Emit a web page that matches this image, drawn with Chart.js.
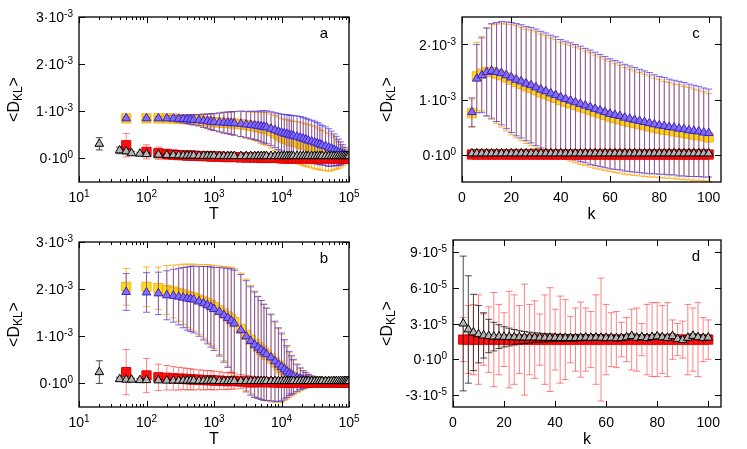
<!DOCTYPE html>
<html>
<head>
<meta charset="utf-8">
<script src="https://cdn.jsdelivr.net/npm/chart.js@4.4.1/dist/chart.umd.min.js"></script>
<style>
  body { margin: 0; background: #fff; width: 747px; height: 449px; overflow: hidden; position: relative; }
  canvas { position: absolute; }
</style>
</head>
<body>
<canvas id="pa" width="373" height="224" style="left:0;top:0"></canvas>
<canvas id="pb" width="373" height="225" style="left:0;top:224px"></canvas>
<canvas id="pc" width="374" height="224" style="left:373px;top:0"></canvas>
<canvas id="pd" width="374" height="225" style="left:373px;top:224px"></canvas>
<script>
// ---- data (a, b in units of 1e-3; c in 1e-3; d in 1e-5) ----
const T = [50, 100, 150, 200, 250, 300, 350, 400, 450, 500,
  600, 700, 800, 900, 1000, 1200, 1400, 1600, 1800, 2000,
  2500, 3000, 3500, 4000, 4500, 5000, 5500, 6000,
  7000, 8000, 9000, 10000, 11000, 12000, 13000, 14000, 15000,
  17000, 19000, 21000, 23000, 25000, 28000, 31000, 34000, 37000, 40000,
  45000, 50000, 55000, 60000, 65000, 70000, 75000, 80000, 85000, 90000, 95000, 100000];
const T_GRAY = [20, 40, 50, 60, 80].concat(T.slice(1)); //gray runs start earlier

// panel a
const YELLOW_A = [0.85,0.85,0.85,0.85,0.845,0.84,0.835,0.83,0.825,0.82, 0.81,0.80,0.79,0.78,0.77, 0.76,0.755,0.75,0.745,0.74,
  0.725,0.71,0.695,0.68,0.665,0.65,0.635,0.62, 0.58,0.54,0.50,0.46, 0.43,0.41,0.39,0.37,0.36,
  0.34,0.32,0.30,0.28,0.27, 0.25,0.23,0.21,0.19,0.17, 0.15,0.13,0.11,0.10,0.08,0.07,0.06,0.05,0.04,0.035,0.03,0.03];
const BLUE_A = [0.85,0.85,0.85,0.85,0.845,0.84,0.835,0.83,0.825,0.82, 0.81,0.80,0.79,0.78,0.77, 0.765,0.76,0.755,0.75,0.745,
  0.735,0.72,0.71,0.70,0.69,0.68,0.67,0.66, 0.63,0.60,0.57,0.55, 0.53,0.52,0.50,0.49,0.48,
  0.46,0.44,0.42,0.40,0.38, 0.36,0.34,0.32,0.30,0.28, 0.26,0.23,0.21,0.18,0.16,0.13,0.11,0.09,0.07,0.06,0.05,0.04];
const ERR_A = [0.03,0.03,0.04,0.05,0.06,0.07,0.08,0.09,0.10,0.11, 0.12,0.14,0.15,0.17,0.18, 0.20,0.22,0.23,0.24,0.25,
  0.27,0.28,0.29,0.30,0.31,0.33,0.34,0.35, 0.36,0.37,0.38,0.39, 0.40,0.41,0.42,0.42,0.43,
  0.44,0.45,0.45,0.45,0.45, 0.45,0.45,0.44,0.43,0.42, 0.41,0.40,0.37,0.34,0.31,0.28,0.24,0.20,0.16,0.12,0.08,0.05];
const RED_A = [0.28,0.14,0.11,0.09,0.08,0.07,0.07,0.06,0.06,0.06, 0.05,0.05,0.05,0.04,0.04, 0.04,0.03,0.03,0.03,0.03,
  0.02,0.02,0.02,0.02,0.02,0.01,0.01,0.01, 0.01,0.01,0.01,0, 0,0,0,0,0,
  0,0,0,0,0, 0,0,0,0,0, 0,0,0,0,0,0,0,0,0,0,0,0];
const RED_ERR_A = [0.25,0.15,0.13,0.11,0.10,0.09,0.08,0.07,0.07,0.06, 0.05,0.05,0.04,0.04,0.04, 0.03,0.03,0.03,0.03,0.03,
  0.02,0.02,0.02,0.02,0.02,0.02,0.02,0.02, 0.02,0.02,0.02,0.02, 0.02,0.02,0.02,0.02,0.02,
  0.02,0.02,0.02,0.02,0.02, 0.02,0.02,0.02,0.02,0.02, 0.02,0.02,0.02,0.02,0.02,0.02,0.02,0.02,0.02,0.02,0.02,0.02];
const GRAY_A = [0.31,0.17,0.15,0.11,0.10, 0.09,0.08,0.07,0.07,0.065,0.06,0.06,0.06,0.06, 0.055,0.055,0.055,0.055,0.055,
  0.05,0.05,0.05,0.05,0.05, 0.05,0.05,0.05,0.05,0.05,0.05,0.05,0.05, 0.05,0.05,0.05,0.05, 0.05,0.05,0.05,0.05,0.05,
  0.05,0.05,0.05,0.05,0.05, 0.05,0.05,0.05,0.05,0.05, 0.05,0.05,0.05,0.05,0.05,0.05,0.05,0.05,0.05,0.05,0.05,0.05];
const GRAY_ERR_A = [0.13,0.07,0.05,0.04,0.03, 0.03,0.02,0.02,0.02,0.02,0.02,0.02,0.02,0.02, 0.02,0.02,0.02,0.02,0.02,
  0.02,0.02,0.02,0.02,0.02, 0.02,0.02,0.02,0.02,0.02,0.02,0.02,0.02, 0.02,0.02,0.02,0.02, 0.02,0.02,0.02,0.02,0.02,
  0.02,0.02,0.02,0.02,0.02, 0.02,0.02,0.02,0.02,0.02, 0.02,0.02,0.02,0.02,0.02,0.02,0.02,0.02,0.02,0.02,0.02,0.02];

// panel b
const YELLOW_B = [2.05,2.05,2.02,1.98,1.95,1.92,1.89,1.86,1.84,1.82, 1.78,1.74,1.70,1.66,1.62, 1.55,1.48,1.42,1.36,1.30,
  1.16,1.03,0.93,0.84,0.77,0.71,0.66,0.61, 0.53,0.45,0.38,0.32, 0.27,0.22,0.18,0.15,0.13,
  0.10,0.08,0.07,0.06,0.05, 0.045,0.04,0.035,0.03,0.03, 0.03,0.03,0.025,0.025,0.025,0.02,0.02,0.02,0.02,0.02,0.02,0.02];
const BLUE_B = [1.94,1.93,1.91,1.87,1.86,1.84,1.82,1.80,1.79,1.78, 1.74,1.70,1.66,1.62,1.58, 1.52,1.45,1.39,1.33,1.27,
  1.13,1.00,0.90,0.82,0.76,0.71,0.66,0.62, 0.55,0.47,0.40,0.35, 0.30,0.25,0.21,0.18,0.15,
  0.12,0.10,0.08,0.07,0.06, 0.05,0.045,0.04,0.035,0.035, 0.03,0.03,0.03,0.03,0.025,0.025,0.025,0.02,0.02,0.02,0.02,0.02];
const ERR_B = [0.39,0.42,0.45,0.52,0.56,0.60,0.64,0.67,0.69,0.71, 0.74,0.78,0.82,0.85,0.88, 0.94,1.00,1.05,1.10,1.13,
  1.18,1.18,1.15,1.12,1.08,1.05,1.02,0.98, 0.92,0.85,0.78,0.72, 0.63,0.55,0.47,0.41,0.36,
  0.29,0.23,0.19,0.16,0.13, 0.11,0.09,0.08,0.07,0.06, 0.05,0.04,0.035,0.03,0.03,0.025,0.025,0.02,0.02,0.02,0.02,0.02];
const RED_B = [0.24,0.17,0.13,0.12,0.11,0.10,0.10,0.09,0.09,0.08, 0.08,0.07,0.07,0.07,0.06, 0.06,0.05,0.05,0.05,0.05,
  0.04,0.04,0.035,0.03,0.03,0.03,0.03,0.025, 0.025,0.02,0.02,0.02, 0.02,0.02,0.02,0.02,0.02,
  0.02,0.02,0.02,0.02,0.02, 0.02,0.02,0.02,0.02,0.02, 0.02,0.02,0.02,0.02,0.02,0.02,0.02,0.02,0.02,0.02,0.02,0.02];
const RED_ERR_B = [0.48,0.36,0.28,0.26,0.25,0.24,0.23,0.23,0.22,0.22, 0.21,0.21,0.20,0.20,0.20, 0.19,0.18,0.18,0.17,0.17,
  0.15,0.13,0.12,0.11,0.10,0.08,0.07,0.07, 0.06,0.05,0.05,0.04, 0.04,0.03,0.03,0.03,0.03,
  0.02,0.02,0.02,0.02,0.02, 0.02,0.02,0.02,0.02,0.02, 0.02,0.02,0.02,0.02,0.02,0.02,0.02,0.02,0.02,0.02,0.02,0.02];
const GRAY_B = [0.24,0.09,0.08,0.08,0.07, 0.07,0.065,0.06,0.06,0.06,0.06,0.06,0.06,0.06, 0.055,0.055,0.055,0.055,0.055,
  0.05,0.05,0.05,0.05,0.05, 0.05,0.05,0.05,0.05,0.05,0.05,0.05,0.05, 0.05,0.05,0.05,0.05, 0.05,0.05,0.05,0.05,0.05,
  0.05,0.05,0.05,0.05,0.05, 0.05,0.05,0.05,0.05,0.05, 0.05,0.05,0.05,0.05,0.05,0.05,0.05,0.05,0.05,0.05,0.05,0.05];
const GRAY_ERR_B = [0.24,0.04,0.03,0.03,0.03, 0.02,0.02,0.02,0.02,0.02,0.02,0.02,0.02,0.02, 0.02,0.02,0.02,0.02,0.02,
  0.02,0.02,0.02,0.02,0.02, 0.02,0.02,0.02,0.02,0.02,0.02,0.02,0.02, 0.02,0.02,0.02,0.02, 0.02,0.02,0.02,0.02,0.02,
  0.02,0.02,0.02,0.02,0.02, 0.02,0.02,0.02,0.02,0.02, 0.02,0.02,0.02,0.02,0.02,0.02,0.02,0.02,0.02,0.02,0.02,0.02];

// panels c, d share k
const K = [4,6,8,10,12,14,16,18,20,22,24,26,28,30,32,34,36,38,40,42,44,46,48,50,
  52,54,56,58,60,62,64,66,68,70,72,74,76,78,80,82,84,86,88,90,92,94,96,98,100];

const YELLOW_C = [0.75,1.42,1.47,1.50,1.50,1.47,1.44,1.40,1.36,1.32, 1.28,1.24,1.21,1.17,1.13,1.10,1.06,1.03,0.99,0.96,
  0.93,0.90,0.87,0.84,0.81,0.78,0.75,0.72,0.69,0.66, 0.64,0.61,0.59,0.57,0.55,0.53,0.51,0.49,0.47,0.45,
  0.44,0.42,0.41,0.39,0.38,0.36,0.35,0.33,0.31];
const BLUE_C = [0.77,1.38,1.44,1.50,1.52,1.50,1.48,1.44,1.40,1.36, 1.33,1.29,1.26,1.22,1.18,1.15,1.11,1.08,1.04,1.01,
  0.98,0.95,0.92,0.89,0.86,0.83,0.80,0.77,0.74,0.72, 0.70,0.67,0.65,0.63,0.61,0.59,0.57,0.55,0.53,0.52,
  0.50,0.49,0.47,0.46,0.44,0.43,0.42,0.40,0.39];
const ERR_C = [0.26,0.62,0.68,0.80,0.86,0.90,0.94,0.97,1.00,1.02, 1.03,1.04,1.05,1.06,1.06,1.06,1.06,1.06,1.05,1.05,
  1.05,1.05,1.05,1.04,1.04,1.03,1.02,1.01,1.00,0.99, 0.98,0.97,0.96,0.95,0.94,0.93,0.92,0.90,0.89,0.88,
  0.87,0.86,0.86,0.85,0.84,0.83,0.82,0.81,0.80];
const RED_C = [0,0,0,0,0,0,0,0,0,0, 0,0,0,0,0,0,0,0,0,0, 0,0,0,0,0,0,0,0,0,0, 0,0,0,0,0,0,0,0,0,0, 0,0,0,0,0,0,0,0,0];
const RED_ERR_C = [0.01,0.01,0.01,0.01,0.01,0.01,0.01,0.01,0.01,0.01, 0.01,0.01,0.01,0.01,0.01,0.01,0.01,0.01,0.01,0.01,
  0.01,0.01,0.01,0.01,0.01,0.01,0.01,0.01,0.01,0.01, 0.01,0.01,0.01,0.01,0.01,0.01,0.01,0.01,0.01,0.01,
  0.01,0.01,0.01,0.01,0.01,0.01,0.01,0.01,0.01];
const GRAY_C = [0.02,0.02,0.02,0.02,0.02,0.02,0.02,0.02,0.02,0.02, 0.02,0.02,0.02,0.02,0.02,0.02,0.02,0.02,0.02,0.02,
  0.02,0.02,0.02,0.02,0.02,0.02,0.02,0.02,0.02,0.02, 0.02,0.02,0.02,0.02,0.02,0.02,0.02,0.02,0.02,0.02,
  0.02,0.02,0.02,0.02,0.02,0.02,0.02,0.02,0.02];
const GRAY_ERR_C = RED_ERR_C;

const RED_D = [1.65,1.65,1.65,1.65,1.65,1.65,1.65,1.65,1.65,1.65, 1.65,1.65,1.65,1.65,1.65,1.65,1.65,1.65,1.65,1.65,
  1.65,1.65,1.65,1.65,1.65,1.65,1.65,1.65,1.65,1.65, 1.65,1.65,1.65,1.65,1.65,1.65,1.65,1.65,1.65,1.65,
  1.65,1.65,1.65,1.65,1.65,1.65,1.65,1.65,1.65];
const RED_ERR_D = [1.85,2.85,2.95,3.75,2.15,2.75,3.95,2.95,2.25,4.05, 3.75,2.85,4.65,2.95,3.25,2.15,3.75,4.35,2.55,3.65,
  3.35,1.95,2.65,3.15,2.65,2.35,3.75,5.15,2.95,2.25, 2.35,1.45,1.85,2.55,2.65,1.35,2.95,3.1,3.1,2.85,
  3.1,1.65,1.35,1.55,2.95,2.65,3.1,1.85,1.65];
const GRAY_D = [3.0,2.5,2.25,2.1,2.0,1.95,1.9,1.9,1.88,1.86, 1.85,1.84,1.83,1.82,1.82,1.81,1.8,1.8,1.8,1.79,
  1.79,1.78,1.78,1.8,1.82,1.8,1.82,1.8,1.78,1.8, 1.76,1.78,1.84,1.95,1.8,1.85,1.78,1.86,1.92,1.84,
  1.8,1.94,1.7,1.62,1.8,1.96,1.85,1.78,1.82];
const GRAY_ERR_D = [5.65,4.5,3.2,2.4,1.9,1.4,1.2,1.0,0.85,0.75, 0.65,0.55,0.5,0.45,0.4,0.38,0.35,0.33,0.3,0.3,
  0.28,0.28,0.26,0.26,0.25,0.25,0.24,0.24,0.23,0.23, 0.22,0.22,0.22,0.22,0.21,0.21,0.21,0.21,0.2,0.2,
  0.2,0.2,0.2,0.2,0.2,0.2,0.2,0.2,0.2];

// tick labels: [mantissa, exponent]
const T_TICKS = [10, 100, 1000, 10000, 100000];
const T_LABELS = [['10', '1'], ['10', '2'], ['10', '3'], ['10', '4'], ['10', '5']];
const K_TICKS = [0, 20, 40, 60, 80, 100];
const K_LABELS = ['0', '20', '40', '60', '80', '100'];
const Y_TICKS_AB = [0, 1e-3, 2e-3, 3e-3];
const Y_LABELS_AB = [['0', '0'], ['1', '-3'], ['2', '-3'], ['3', '-3']];
const Y_TICKS_C = [0, 1e-3, 2e-3];
const Y_LABELS_C = [['0', '0'], ['1', '-3'], ['2', '-3']];
const Y_TICKS_D = [-3e-5, 0, 3e-5, 6e-5, 9e-5];
const Y_LABELS_D = [['-3', '-5'], ['0', '0'], ['3', '-5'], ['6', '-5'], ['9', '-5']];

const FONT = '"Liberation Sans", Arial, Helvetica, sans-serif';

// ---- marker styles ----
const YELLOW = { pointStyle: 'rect', pointRadius: 6.5, backgroundColor: 'rgba(255,215,0,0.9)',
  borderColor: 'rgba(255,165,0,0.85)', borderWidth: 1, errorColor: 'rgba(255,165,0,0.8)', order: 4 };
const BLUE = { pointStyle: 'triangle', pointRadius: 5, backgroundColor: 'rgba(125,110,245,0.95)',
  borderColor: '#3b1fd0', borderWidth: 1, errorColor: 'rgba(85,55,220,0.75)', order: 3 };
const RED = { pointStyle: 'rect', pointRadius: 6.5, backgroundColor: '#ff1010',
  borderColor: '#dd0000', borderWidth: 1, errorColor: 'rgba(255,30,30,0.55)', order: 2 };
const GRAY = { pointStyle: 'triangle', pointRadius: 5, backgroundColor: '#b4b4b4',
  borderColor: '#000', borderWidth: 1, errorColor: 'rgba(0,0,0,0.7)', order: 1 };

function series(xs, ys, errs, unit, style) {
  return Object.assign({
    data: xs.map((x, i) => ({ x: x, y: ys[i] * unit })),
    errors: errs.map(e => e * unit),
    showLine: false
  }, style);
}

// error bars drawn right before each dataset's markers
const errorBars = {
  id: 'errorBars',
  beforeDatasetDraw(chart, args) {
    const ds = chart.data.datasets[args.index];
    if (!ds.errors) return;
    const sx = chart.scales.x, sy = chart.scales.y, a = chart.chartArea, ctx = chart.ctx;
    ctx.save();
    ctx.beginPath();
    ctx.rect(a.left, a.top, a.right - a.left, a.bottom - a.top);
    ctx.clip();
    ctx.strokeStyle = ds.errorColor;
    ctx.lineWidth = 1;
    ctx.beginPath();
    ds.data.forEach((p, i) => {
      const px = sx.getPixelForValue(p.x);
      const y1 = sy.getPixelForValue(p.y + ds.errors[i]);
      const y2 = sy.getPixelForValue(p.y - ds.errors[i]);
      ctx.moveTo(px, y1); ctx.lineTo(px, y2);
      ctx.moveTo(px - 3.5, y1); ctx.lineTo(px + 3.5, y1);
      ctx.moveTo(px - 3.5, y2); ctx.lineTo(px + 3.5, y2);
    });
    ctx.stroke();
    ctx.restore();
  }
};

function supText(ctx, base, sup, x, y, align) {
  ctx.font = '14px ' + FONT;
  const wb = ctx.measureText(base).width;
  ctx.font = '10px ' + FONT;
  const ws = ctx.measureText(sup).width;
  const w = wb + ws;
  const x0 = align === 'right' ? x - w : (align === 'center' ? x - w / 2 : x);
  ctx.textAlign = 'left';
  ctx.textBaseline = 'alphabetic';
  ctx.font = '14px ' + FONT;
  ctx.fillText(base, x0, y);
  ctx.font = '10px ' + FONT;
  ctx.fillText(sup, x0 + wb, y - 5);
}

// gnuplot-like box: inward ticks on all sides, superscript labels, titles
function framePlugin(p) {
  return {
    id: 'frame',
    afterDraw(chart) {
      const ctx = chart.ctx, a = chart.chartArea, sx = chart.scales.x, sy = chart.scales.y;
      ctx.save();
      ctx.strokeStyle = '#000';
      ctx.lineWidth = 1;
      ctx.beginPath();
      p.xTicks.forEach(v => {
        const px = Math.round(sx.getPixelForValue(v)) + 0.5;
        ctx.moveTo(px, a.bottom); ctx.lineTo(px, a.bottom - 6);
        ctx.moveTo(px, a.top); ctx.lineTo(px, a.top + 6);
      });
      (p.xMinor || []).forEach(v => {
        const px = Math.round(sx.getPixelForValue(v)) + 0.5;
        ctx.moveTo(px, a.bottom); ctx.lineTo(px, a.bottom - 3);
        ctx.moveTo(px, a.top); ctx.lineTo(px, a.top + 3);
      });
      p.yTicks.forEach(v => {
        const py = Math.round(sy.getPixelForValue(v)) + 0.5;
        ctx.moveTo(a.left, py); ctx.lineTo(a.left + 6, py);
        ctx.moveTo(a.right, py); ctx.lineTo(a.right - 6, py);
      });
      ctx.stroke();
      ctx.lineWidth = 1.3;
      ctx.strokeRect(a.left, a.top, a.right - a.left, a.bottom - a.top);

      ctx.fillStyle = '#000';
      p.yTicks.forEach((v, i) => {
        supText(ctx, p.yLabels[i][0] + '\u00b710', p.yLabels[i][1], a.left - 6, sy.getPixelForValue(v) + 5, 'right');
      });
      p.xTicks.forEach((v, i) => {
        const l = p.xLabels[i], px = sx.getPixelForValue(v);
        if (Array.isArray(l)) {
          supText(ctx, l[0], l[1], px, a.bottom + 20, 'center');
        } else {
          ctx.font = '14px ' + FONT;
          ctx.textAlign = 'center';
          ctx.fillText(l, px, a.bottom + 20);
        }
      });
      // axis titles
      ctx.font = '16px ' + FONT;
      ctx.textAlign = 'center';
      ctx.fillText(p.xTitle, (a.left + a.right) / 2, a.bottom + 37);
      ctx.font = '15px ' + FONT;
      ctx.fillText(p.letter, a.right - 25, a.top + 21);

      // <D_KL> rotated
      ctx.translate(19, (a.top + a.bottom) / 2);
      ctx.rotate(-Math.PI / 2);
      ctx.textAlign = 'left';
      ctx.font = '16px ' + FONT;
      const w1 = ctx.measureText('<D').width, w3 = ctx.measureText('>').width;
      ctx.font = '12px ' + FONT;
      const w2 = ctx.measureText('KL').width;
      let x0 = -(w1 + w2 + w3) / 2;
      ctx.font = '16px ' + FONT;
      ctx.fillText('<D', x0, 0);
      ctx.font = '12px ' + FONT;
      ctx.fillText('KL', x0 + w1, 3);
      ctx.font = '16px ' + FONT;
      ctx.fillText('>', x0 + w1 + w2, 0);
      ctx.restore();
    }
  };
}

const LOG_MINOR = [];
[10, 100, 1000, 10000].forEach(d => { for (let m = 2; m <= 9; m++) LOG_MINOR.push(m * d); });

function makePanel(id, datasets, xScale, yScale, padding, frame) {
  new Chart(document.getElementById(id), {
    type: 'scatter',
    data: { datasets: datasets },
    options: {
      responsive: false,
      animation: false,
      events: [],
      layout: { padding: padding },
      plugins: { legend: { display: false }, tooltip: { enabled: false } },
      scales: {
        x: Object.assign({ ticks: { display: false }, grid: { display: false }, border: { display: false },
          afterFit: s => { s.height = 0; } }, xScale),
        y: Object.assign({ ticks: { display: false }, grid: { display: false }, border: { display: false },
          afterFit: s => { s.width = 0; } }, yScale)
      }
    },
    plugins: [errorBars, framePlugin(frame)]
  });
}

const U3 = 1e-3, U5 = 1e-5;
const logT = { type: 'logarithmic', min: 10, max: 100000 };
const linK = { type: 'linear', min: 0, max: 105 };

makePanel('pa', [
  series(T, YELLOW_A, ERR_A, U3, YELLOW),
  series(T, BLUE_A, ERR_A, U3, BLUE),
  series(T, RED_A, RED_ERR_A, U3, RED),
  series(T_GRAY, GRAY_A, GRAY_ERR_A, U3, GRAY)
], logT, { type: 'linear', min: -0.0005, max: 0.003 },
  { left: 79, top: 17, right: 24, bottom: 42 },
  { xTicks: T_TICKS, xLabels: T_LABELS, xMinor: LOG_MINOR, yTicks: Y_TICKS_AB, yLabels: Y_LABELS_AB, xTitle: 'T', letter: 'a' });

makePanel('pb', [
  series(T, YELLOW_B, ERR_B, U3, YELLOW),
  series(T, BLUE_B, ERR_B, U3, BLUE),
  series(T, RED_B, RED_ERR_B, U3, RED),
  series(T_GRAY, GRAY_B, GRAY_ERR_B, U3, GRAY)
], logT, { type: 'linear', min: -0.0005, max: 0.003 },
  { left: 79, top: 18, right: 24, bottom: 42 },
  { xTicks: T_TICKS, xLabels: T_LABELS, xMinor: LOG_MINOR, yTicks: Y_TICKS_AB, yLabels: Y_LABELS_AB, xTitle: 'T', letter: 'b' });

makePanel('pc', [
  series(K, YELLOW_C, ERR_C, U3, YELLOW),
  series(K, BLUE_C, ERR_C, U3, BLUE),
  series(K, RED_C, RED_ERR_C, U3, RED),
  series(K, GRAY_C, GRAY_ERR_C, U3, GRAY)
], linK, { type: 'linear', min: -0.0005, max: 0.0025 },
  { left: 89, top: 17, right: 26, bottom: 42 },
  { xTicks: K_TICKS, xLabels: K_LABELS, yTicks: Y_TICKS_C, yLabels: Y_LABELS_C, xTitle: 'k', letter: 'c' });

makePanel('pd', [
  series(K, RED_D, RED_ERR_D, U5, RED),
  series(K, GRAY_D, GRAY_ERR_D, U5, GRAY)
], linK, { type: 'linear', min: -0.00004, max: 0.0001 },
  { left: 80, top: 16, right: 26, bottom: 42 },
  { xTicks: K_TICKS, xLabels: K_LABELS, yTicks: Y_TICKS_D, yLabels: Y_LABELS_D, xTitle: 'k', letter: 'd' });
</script>
</body>
</html>
